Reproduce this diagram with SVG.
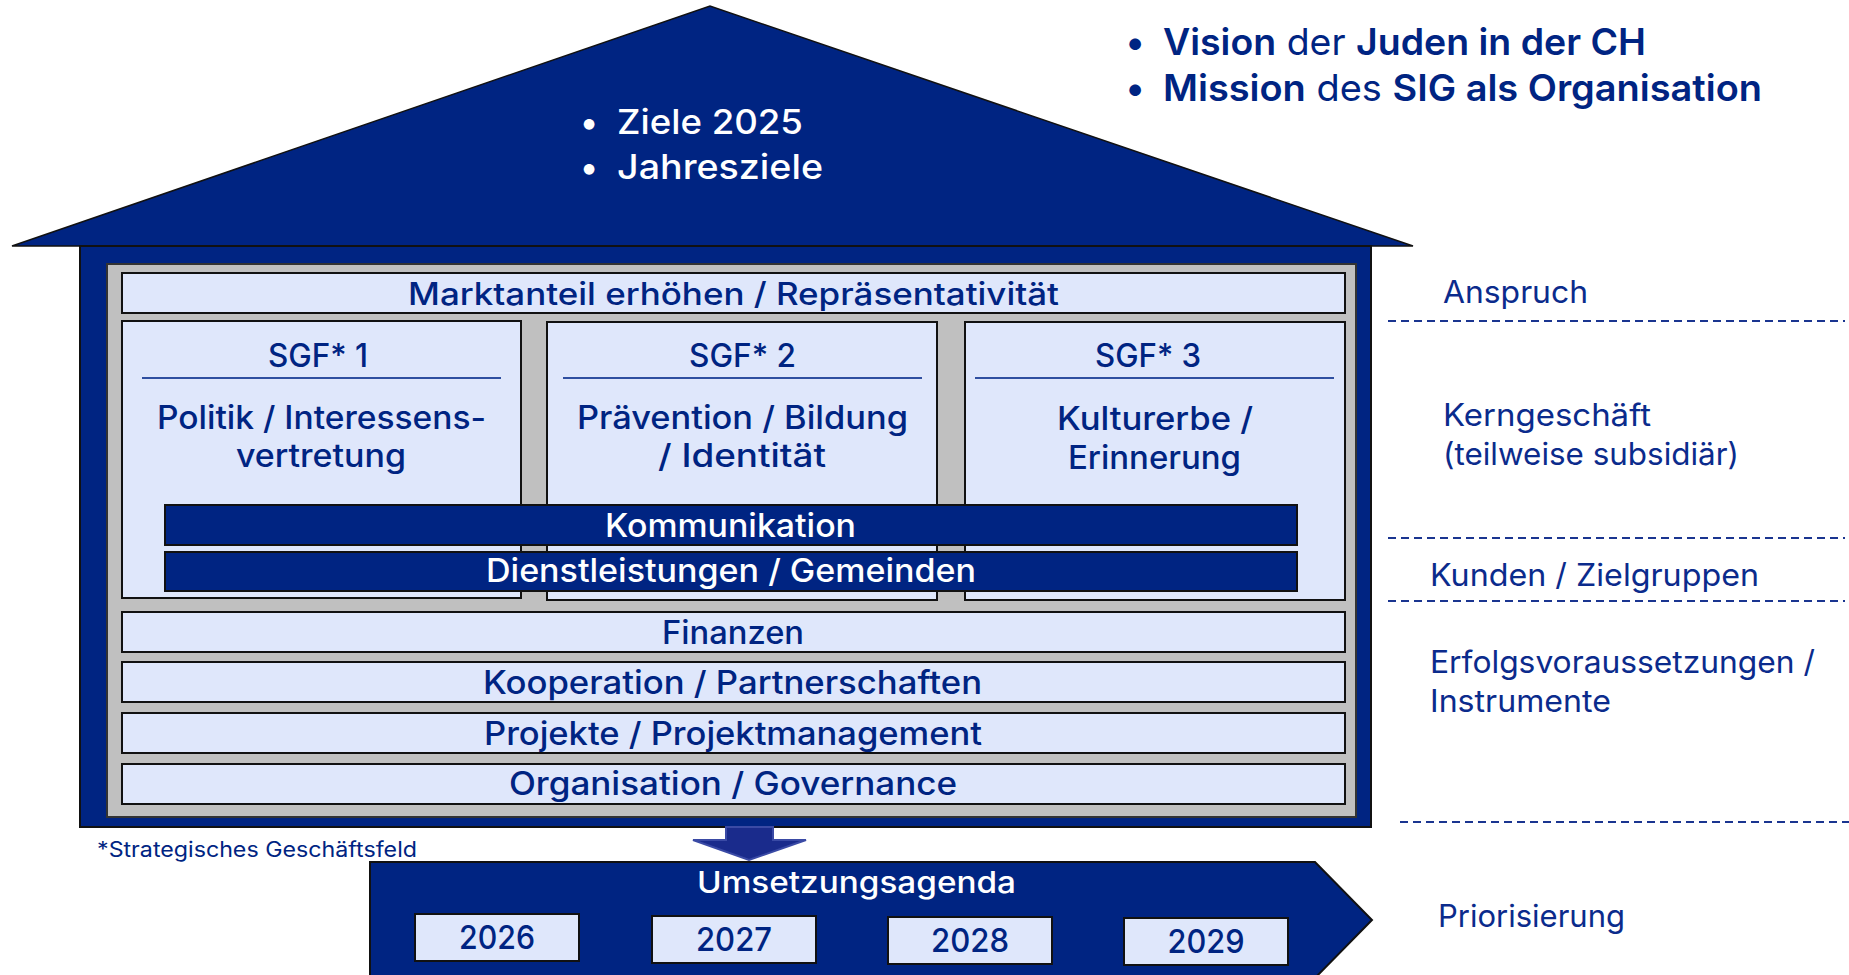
<svg xmlns="http://www.w3.org/2000/svg" width="1849" height="975" viewBox="0 0 1849 975">
  <style>
    .navy { fill: #002482; }
    .edge { stroke: #111; stroke-width: 2; }
    .light { fill: #dfe7fb; stroke: #111; stroke-width: 2; }
    .t { font-family: Inter, "Noto Sans", "Liberation Sans", sans-serif; font-weight: 500; }
    .tw { fill: #ffffff; }
    .tn { fill: #002482; }
    .note { font-family: Inter, "Noto Sans", "Liberation Sans", sans-serif; font-weight: 400; fill: #002482; font-size: 21px; }
    .lbl { font-family: Inter, "Noto Sans", "Liberation Sans", sans-serif; font-weight: 400; fill: #0b2b8c; font-size: 31px; }
    .dash { stroke: #1a3590; stroke-width: 2; stroke-dasharray: 8 5; fill: none; }
    .rule { stroke: #2f4fa0; stroke-width: 2; }
  </style>

  <!-- roof with yearly goals -->
  <g id="roof">
    <polygon points="12,246 710,6 1413,246" class="navy" stroke="#111" stroke-width="1.5"/>
    <text x="589" y="134" class="t tw" font-size="34" text-anchor="middle">•</text>
    <text x="617" y="134" class="t tw" font-size="34" textLength="186" lengthAdjust="spacingAndGlyphs">Ziele 2025</text>
    <text x="589" y="179" class="t tw" font-size="34" text-anchor="middle">•</text>
    <text x="617" y="179" class="t tw" font-size="34" textLength="206" lengthAdjust="spacingAndGlyphs">Jahresziele</text>
  </g>

  <!-- vision and mission -->
  <g id="vision-mission">
    <text x="1135" y="55" class="t tn" font-size="37" text-anchor="middle">•</text>
    <text x="1163" y="55" class="t tn" font-size="37" textLength="483" lengthAdjust="spacingAndGlyphs"><tspan font-weight="600">Vision</tspan><tspan font-weight="400"> der </tspan><tspan font-weight="600">Juden in der CH</tspan></text>
    <text x="1135" y="101" class="t tn" font-size="37" text-anchor="middle">•</text>
    <text x="1163" y="101" class="t tn" font-size="37" textLength="599" lengthAdjust="spacingAndGlyphs"><tspan font-weight="600">Mission</tspan><tspan font-weight="400"> des </tspan><tspan font-weight="600">SIG als Organisation</tspan></text>
  </g>

  <!-- house body -->
  <g id="house">
    <rect x="80" y="246" width="1291" height="581" class="navy edge"/>
    <rect x="107" y="264" width="1249" height="553" fill="#c0c0c0" stroke="#333" stroke-width="2"/>
  </g>

  <g id="anspruch-row">
    <rect x="122" y="273" width="1223" height="40" class="light"/>
    <text x="408" y="305" class="t tn" font-size="31" textLength="651" lengthAdjust="spacingAndGlyphs">Marktanteil erhöhen / Repräsentativität</text>
  </g>

  <g id="sgf1">
    <rect x="122" y="321" width="399" height="277" class="light"/>
    <text x="268" y="367" class="t tn" font-size="32" textLength="100" lengthAdjust="spacingAndGlyphs">SGF* 1</text>
    <line x1="142" y1="378" x2="501" y2="378" class="rule"/>
    <text x="157" y="429" class="t tn" font-size="32" textLength="329" lengthAdjust="spacingAndGlyphs">Politik / Interessens-</text>
    <text x="236" y="467" class="t tn" font-size="32" textLength="170" lengthAdjust="spacingAndGlyphs">vertretung</text>
  </g>

  <g id="sgf2">
    <rect x="547" y="322" width="390" height="278" class="light"/>
    <text x="689" y="367" class="t tn" font-size="32" textLength="107" lengthAdjust="spacingAndGlyphs">SGF* 2</text>
    <line x1="563" y1="378" x2="922" y2="378" class="rule"/>
    <text x="577" y="429" class="t tn" font-size="32" textLength="331" lengthAdjust="spacingAndGlyphs">Prävention / Bildung</text>
    <text x="658" y="467" class="t tn" font-size="32" textLength="168" lengthAdjust="spacingAndGlyphs">/ Identität</text>
  </g>

  <g id="sgf3">
    <rect x="965" y="322" width="380" height="278" class="light"/>
    <text x="1095" y="367" class="t tn" font-size="32" textLength="106" lengthAdjust="spacingAndGlyphs">SGF* 3</text>
    <line x1="975" y1="378" x2="1334" y2="378" class="rule"/>
    <text x="1057" y="430" class="t tn" font-size="32" textLength="196" lengthAdjust="spacingAndGlyphs">Kulturerbe /</text>
    <text x="1068" y="469" class="t tn" font-size="32" textLength="173" lengthAdjust="spacingAndGlyphs">Erinnerung</text>
  </g>

  <g id="kommunikation">
    <rect x="165" y="505" width="1132" height="40" class="navy edge"/>
    <text x="605" y="537" class="t tw" font-size="32" textLength="251" lengthAdjust="spacingAndGlyphs">Kommunikation</text>
  </g>

  <g id="dienstleistungen">
    <rect x="165" y="552" width="1132" height="39" class="navy edge"/>
    <text x="486" y="582" class="t tw" font-size="32" textLength="490" lengthAdjust="spacingAndGlyphs">Dienstleistungen / Gemeinden</text>
  </g>

  <g id="finanzen">
    <rect x="122" y="612" width="1223" height="40" class="light"/>
    <text x="662" y="644" class="t tn" font-size="32" textLength="142" lengthAdjust="spacingAndGlyphs">Finanzen</text>
  </g>
  <g id="kooperation">
    <rect x="122" y="662" width="1223" height="40" class="light"/>
    <text x="483" y="694" class="t tn" font-size="32" textLength="499" lengthAdjust="spacingAndGlyphs">Kooperation / Partnerschaften</text>
  </g>
  <g id="projekte">
    <rect x="122" y="713" width="1223" height="40" class="light"/>
    <text x="484" y="745" class="t tn" font-size="32" textLength="498" lengthAdjust="spacingAndGlyphs">Projekte / Projektmanagement</text>
  </g>
  <g id="organisation">
    <rect x="122" y="764" width="1223" height="40" class="light"/>
    <text x="509" y="795" class="t tn" font-size="32" textLength="448" lengthAdjust="spacingAndGlyphs">Organisation / Governance</text>
  </g>

  <g id="footnote">
    <text x="97" y="857" class="note" textLength="320" lengthAdjust="spacingAndGlyphs">*Strategisches Geschäftsfeld</text>
  </g>

  <!-- block arrow from the house down to the agenda -->
  <g id="connectors">
    <polygon points="726,827 773,827 773,840 806,840 749,860 693,840 726,840" fill="#1a2b8c" stroke="#3a4aa5" stroke-width="2"/>
  </g>

  <g id="agenda">
    <polygon points="370,862 1315,862 1372,920 1315,978 370,978" class="navy edge"/>
    <text x="697" y="893" class="t tw" font-size="30" textLength="319" lengthAdjust="spacingAndGlyphs">Umsetzungsagenda</text>
  </g>

  <g id="y2026">
    <rect x="415" y="914" width="164" height="47" class="light"/>
    <text x="497" y="949" class="t tn" font-size="33" text-anchor="middle" textLength="76" lengthAdjust="spacingAndGlyphs">2026</text>
  </g>
  <g id="y2027">
    <rect x="652" y="916" width="164" height="47" class="light"/>
    <text x="734" y="951" class="t tn" font-size="33" text-anchor="middle" textLength="76" lengthAdjust="spacingAndGlyphs">2027</text>
  </g>
  <g id="y2028">
    <rect x="888" y="917" width="164" height="47" class="light"/>
    <text x="970" y="952" class="t tn" font-size="33" text-anchor="middle" textLength="78" lengthAdjust="spacingAndGlyphs">2028</text>
  </g>
  <g id="y2029">
    <rect x="1124" y="918" width="164" height="47" class="light"/>
    <text x="1206" y="953" class="t tn" font-size="33" text-anchor="middle" textLength="77" lengthAdjust="spacingAndGlyphs">2029</text>
  </g>

  <!-- level labels on the right -->
  <g id="levels">
    <text x="1443" y="303" class="lbl" textLength="145" lengthAdjust="spacingAndGlyphs">Anspruch</text>
    <line x1="1388" y1="321" x2="1845" y2="321" class="dash"/>
    <text x="1443" y="426" class="lbl" textLength="208" lengthAdjust="spacingAndGlyphs">Kerngeschäft</text>
    <text x="1443" y="465" class="lbl" textLength="296" lengthAdjust="spacingAndGlyphs">(teilweise subsidiär)</text>
    <line x1="1388" y1="538" x2="1845" y2="538" class="dash"/>
    <text x="1430" y="586" class="lbl" textLength="329" lengthAdjust="spacingAndGlyphs">Kunden / Zielgruppen</text>
    <line x1="1388" y1="601" x2="1845" y2="601" class="dash"/>
    <text x="1430" y="673" class="lbl" textLength="385" lengthAdjust="spacingAndGlyphs">Erfolgsvoraussetzungen /</text>
    <text x="1430" y="712" class="lbl" textLength="181" lengthAdjust="spacingAndGlyphs">Instrumente</text>
    <line x1="1400" y1="822" x2="1849" y2="822" class="dash"/>
    <text x="1438" y="927" class="lbl" textLength="187" lengthAdjust="spacingAndGlyphs">Priorisierung</text>
  </g>
</svg>
